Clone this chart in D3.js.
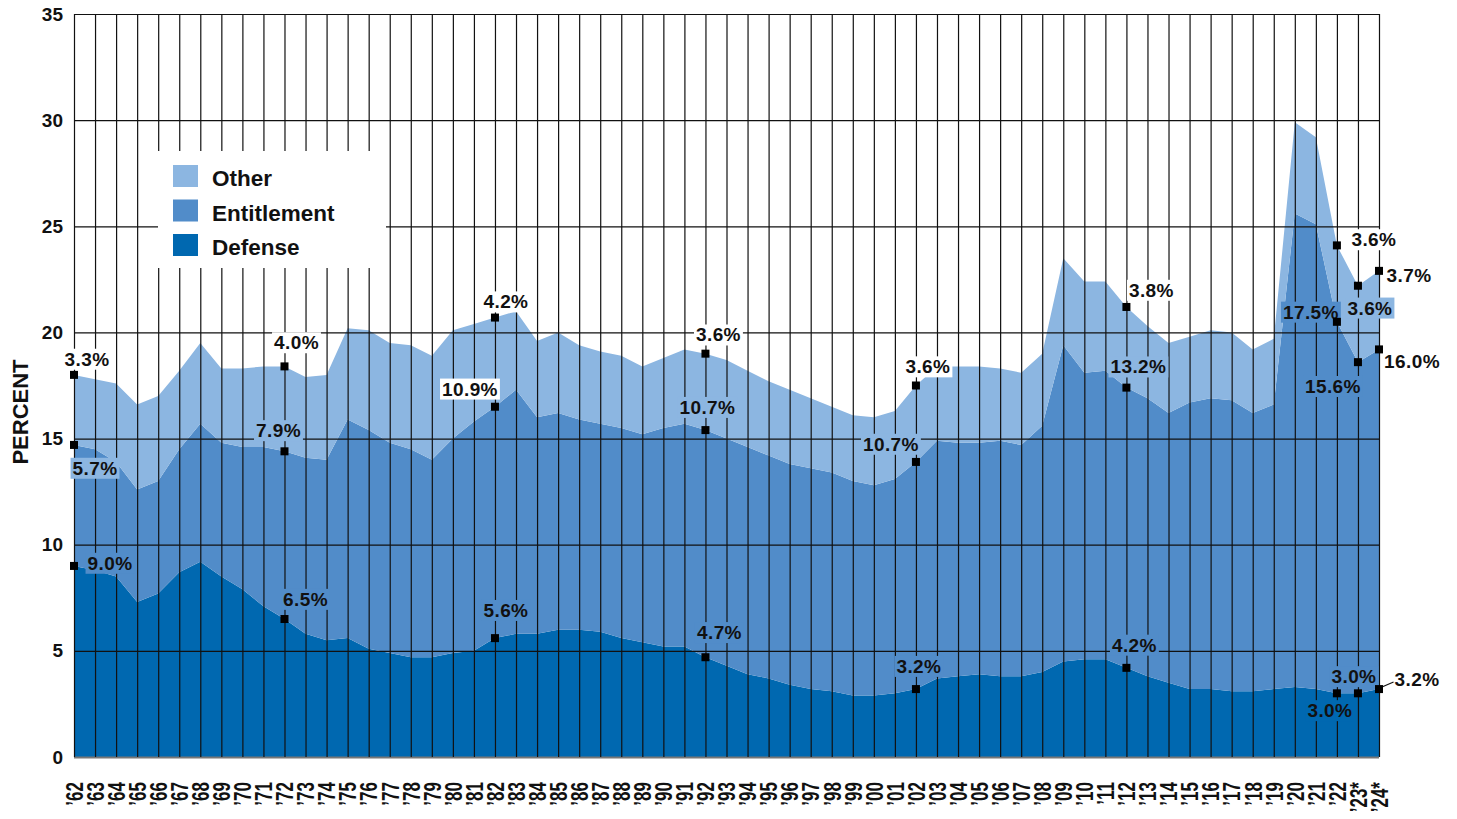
<!DOCTYPE html>
<html>
<head>
<meta charset="utf-8">
<script src="https://cdn.jsdelivr.net/npm/d3@7"></script>
<style>
  html, body { margin: 0; padding: 0; background: #fff; }
  svg { display: block; }
</style>
</head>
<body>
<svg id="chart" width="1457" height="819"></svg>
<script>
// fiscal years shown on the x axis
const years = [
  1962, 1963, 1964, 1965, 1966, 1967, 1968, 1969, 1970, 1971,
  1972, 1973, 1974, 1975, 1976, 1977, 1978, 1979, 1980, 1981,
  1982, 1983, 1984, 1985, 1986, 1987, 1988, 1989, 1990, 1991,
  1992, 1993, 1994, 1995, 1996, 1997, 1998, 1999, 2000, 2001,
  2002, 2003, 2004, 2005, 2006, 2007, 2008, 2009, 2010, 2011,
  2012, 2013, 2014, 2015, 2016, 2017, 2018, 2019, 2020, 2021,
  2022, 2023, 2024
];

// spending, percent of GDP
const defense = [
  9.0, 8.8, 8.5, 7.3, 7.7, 8.7, 9.2, 8.5, 7.9, 7.1,
  6.5, 5.8, 5.5, 5.6, 5.1, 4.9, 4.7, 4.7, 4.9, 5.0,
  5.6, 5.8, 5.8, 6.0, 6.0, 5.9, 5.6, 5.4, 5.2, 5.2,
  4.7, 4.3, 3.9, 3.7, 3.4, 3.2, 3.1, 2.9, 2.9, 3.0,
  3.2, 3.7, 3.8, 3.9, 3.8, 3.8, 4.0, 4.5, 4.6, 4.6,
  4.2, 3.8, 3.5, 3.2, 3.2, 3.1, 3.1, 3.2, 3.3, 3.2,
  3.0, 3.0, 3.2
];
const entitlement = [
  5.7, 5.7, 5.4, 5.3, 5.3, 5.8, 6.5, 6.3, 6.7, 7.5,
  7.9, 8.3, 8.5, 10.3, 10.3, 9.9, 9.8, 9.3, 10.1, 10.8,
  10.9, 11.5, 10.2, 10.2, 9.9, 9.8, 9.9, 9.8, 10.3, 10.5,
  10.7, 10.7, 10.7, 10.5, 10.4, 10.4, 10.3, 10.1, 9.9, 10.1,
  10.7, 11.2, 11.0, 10.9, 11.1, 10.9, 11.6, 14.9, 13.5, 13.6,
  13.2, 13.1, 12.7, 13.5, 13.7, 13.7, 13.1, 13.4, 22.3, 21.9,
  17.5, 15.6, 16.0
];
const other = [
  3.3, 3.3, 3.7, 4.0, 4.0, 3.7, 3.8, 3.5, 3.7, 3.8,
  4.0, 3.8, 4.0, 4.3, 4.7, 4.7, 4.9, 4.9, 5.1, 4.6,
  4.2, 3.7, 3.6, 3.8, 3.5, 3.4, 3.4, 3.2, 3.3, 3.5,
  3.6, 3.7, 3.6, 3.5, 3.5, 3.3, 3.1, 3.1, 3.2, 3.2,
  3.6, 3.5, 3.6, 3.6, 3.4, 3.4, 3.4, 4.1, 4.3, 4.2,
  3.8, 3.4, 3.3, 3.1, 3.2, 3.2, 3.0, 3.1, 4.3, 4.1,
  3.6, 3.6, 3.7
];

const seriesKeys = ['defense', 'entitlement', 'other'];
const legendKeys = ['other', 'entitlement', 'defense'];
const seriesNames = { other: 'Other', entitlement: 'Entitlement', defense: 'Defense' };
const yTicks = [0, 5, 10, 15, 20, 25, 30, 35];
const projectedYears = [2023, 2024];

const colors = { other: '#8cb6e1', entitlement: '#518cc9', defense: '#0068b0', white: '#ffffff' };
const font = '"Liberation Sans", Arial, sans-serif';

// where each value label sits relative to its marker
const annotations = [
  { year: 1962, key: 'other', dx: 13, dy: -16, bg: 'white' },
  { year: 1962, key: 'entitlement', dx: 21, dy: 23, bg: 'other' },
  { year: 1962, key: 'defense', dx: 36, dy: -3, bg: 'entitlement' },
  { year: 1972, key: 'other', dx: 12, dy: -24, bg: 'white' },
  { year: 1972, key: 'entitlement', dx: -6, dy: -21, bg: 'other' },
  { year: 1972, key: 'defense', dx: 21, dy: -20, bg: 'entitlement' },
  { year: 1982, key: 'other', dx: 11, dy: -16, bg: 'white' },
  { year: 1982, key: 'entitlement', dx: -25, dy: -18, bg: 'white' },
  { year: 1982, key: 'defense', dx: 11, dy: -28, bg: 'entitlement' },
  { year: 1992, key: 'other', dx: 13, dy: -19, bg: 'white' },
  { year: 1992, key: 'entitlement', dx: 2, dy: -23, bg: 'other' },
  { year: 1992, key: 'defense', dx: 14, dy: -25, bg: 'entitlement' },
  { year: 2002, key: 'other', dx: 12, dy: -19, bg: 'white' },
  { year: 2002, key: 'entitlement', dx: -25, dy: -18, bg: 'other' },
  { year: 2002, key: 'defense', dx: 3, dy: -23, bg: 'entitlement' },
  { year: 2012, key: 'other', dx: 25, dy: -17, bg: 'white' },
  { year: 2012, key: 'entitlement', dx: 12, dy: -21, bg: 'other' },
  { year: 2012, key: 'defense', dx: 8, dy: -23, bg: 'entitlement' },
  { year: 2022, key: 'other', dx: 37, dy: -6, bg: 'white' },
  { year: 2022, key: 'entitlement', dx: -26, dy: -10, bg: 'entitlement' },
  { year: 2022, key: 'defense', dx: -7, dy: 17, bg: 'defense' },
  { year: 2023, key: 'other', dx: 12, dy: 22, bg: 'other' },
  { year: 2023, key: 'entitlement', dx: -25, dy: 24, bg: 'entitlement' },
  { year: 2023, key: 'defense', dx: -4, dy: -17, bg: 'entitlement' },
  { year: 2024, key: 'other', dx: 30, dy: 4, bg: 'white' },
  { year: 2024, key: 'entitlement', dx: 33, dy: 12, bg: 'white' },
  { year: 2024, key: 'defense', dx: 38, dy: -10, bg: 'white', leader: true }
];

const svg = d3.select('#chart');
const plot = { left: 74, right: 1379, top: 14, bottom: 757 };

const x = d3.scaleLinear().domain([years[0], years[years.length - 1]]).range([plot.left, plot.right]);
const y = d3.scaleLinear().domain([0, 35]).range([plot.bottom, plot.top]);

const table = years.map((year, i) => ({
  year,
  defense: defense[i],
  entitlement: entitlement[i],
  other: other[i]
}));
const stacked = d3.stack().keys(seriesKeys)(table);

const area = d3.area()
  .x(d => x(d.data.year))
  .y0(d => y(d[0]))
  .y1(d => y(d[1]));

svg.append('g')
  .selectAll('path')
  .data(stacked)
  .join('path')
  .attr('fill', d => colors[d.key])
  .attr('d', area);

// grid lines go over the areas
const yAxis = d3.axisLeft(y)
  .tickValues(yTicks)
  .tickSize(-(plot.right - plot.left))
  .tickPadding(11);

const gy = svg.append('g')
  .attr('transform', `translate(${plot.left},0)`)
  .call(yAxis);
gy.select('.domain').remove();
gy.selectAll('line')
  .attr('stroke', d => d === 0 ? '#777' : '#111')
  .attr('stroke-width', d => d === 0 ? 2 : 1.2);
gy.selectAll('text')
  .attr('fill', '#111')
  .style('font-family', font)
  .style('font-weight', 'bold')
  .style('font-size', '19px');

const xAxis = d3.axisBottom(x)
  .tickValues(years)
  .tickSize(-(plot.bottom - plot.top))
  .tickFormat(yr => '\u2019' + String(yr % 100).padStart(2, '0') + (projectedYears.includes(yr) ? '*' : ''));

const gx = svg.append('g')
  .attr('transform', `translate(0,${plot.bottom})`)
  .call(xAxis);
gx.select('.domain').remove();
gx.selectAll('line')
  .attr('stroke', '#111')
  .attr('stroke-width', 1.2);
gx.selectAll('text')
  .attr('x', 0)
  .attr('y', 0)
  .attr('dy', '0.36em')
  .attr('text-anchor', 'end')
  .attr('transform', 'translate(0,25) rotate(-90) scale(0.74,1)')
  .attr('fill', '#111')
  .style('font-family', font)
  .style('font-weight', 'bold')
  .style('font-size', '23px');

svg.append('text')
  .attr('transform', 'translate(20,412) rotate(-90)')
  .attr('text-anchor', 'middle')
  .attr('dy', '0.36em')
  .attr('fill', '#111')
  .style('font-family', font)
  .style('font-weight', 'bold')
  .style('font-size', '22px')
  .text('PERCENT');

// legend
const legend = svg.append('g').attr('transform', 'translate(158,151)');
legend.append('rect')
  .attr('width', 228)
  .attr('height', 117)
  .attr('fill', '#fff');
const items = legend.selectAll('.item')
  .data(legendKeys)
  .join('g')
  .attr('class', 'item')
  .attr('transform', (d, i) => `translate(15,${14 + i * 34.5})`);
items.append('rect')
  .attr('width', 25)
  .attr('height', 22)
  .attr('fill', d => colors[d]);
items.append('text')
  .attr('x', 39)
  .attr('y', 13)
  .attr('dy', '0.36em')
  .attr('fill', '#111')
  .style('font-family', font)
  .style('font-weight', 'bold')
  .style('font-size', '22.5px')
  .text(d => seriesNames[d]);

// value labels and markers
const fmt = d3.format('.1f');
const cumulative = (year, key) => {
  const layer = stacked.find(s => s.key === key);
  return layer[years.indexOf(year)][1];
};
const valueOf = (year, key) => ({ defense, entitlement, other })[key][years.indexOf(year)];

const labels = svg.append('g');
const markers = svg.append('g');

annotations.forEach(a => {
  const mx = x(a.year);
  const my = y(cumulative(a.year, a.key));
  const lx = mx + a.dx;
  const ly = my + a.dy;

  const g = labels.append('g');
  const bgRect = g.append('rect');
  const t = g.append('text')
    .attr('x', lx)
    .attr('y', ly)
    .attr('dy', '0.36em')
    .attr('text-anchor', 'middle')
    .attr('fill', '#111')
    .style('font-family', font)
    .style('font-weight', 'bold')
    .style('font-size', '19px')
    .style('letter-spacing', '0.4px')
    .text(fmt(valueOf(a.year, a.key)) + '%');
  const box = t.node().getBBox();
  bgRect
    .attr('x', box.x - 2)
    .attr('y', box.y)
    .attr('width', box.width + 4)
    .attr('height', box.height)
    .attr('fill', colors[a.bg]);

  if (a.leader) {
    markers.append('line')
      .attr('x1', mx + 3)
      .attr('y1', my - 2)
      .attr('x2', box.x - 1)
      .attr('y2', ly + 3)
      .attr('stroke', '#111')
      .attr('stroke-width', 1.2);
  }

  markers.append('rect')
    .attr('x', mx - 4)
    .attr('y', my - 4)
    .attr('width', 8)
    .attr('height', 8)
    .attr('fill', '#000');
});
</script>
</body>
</html>
